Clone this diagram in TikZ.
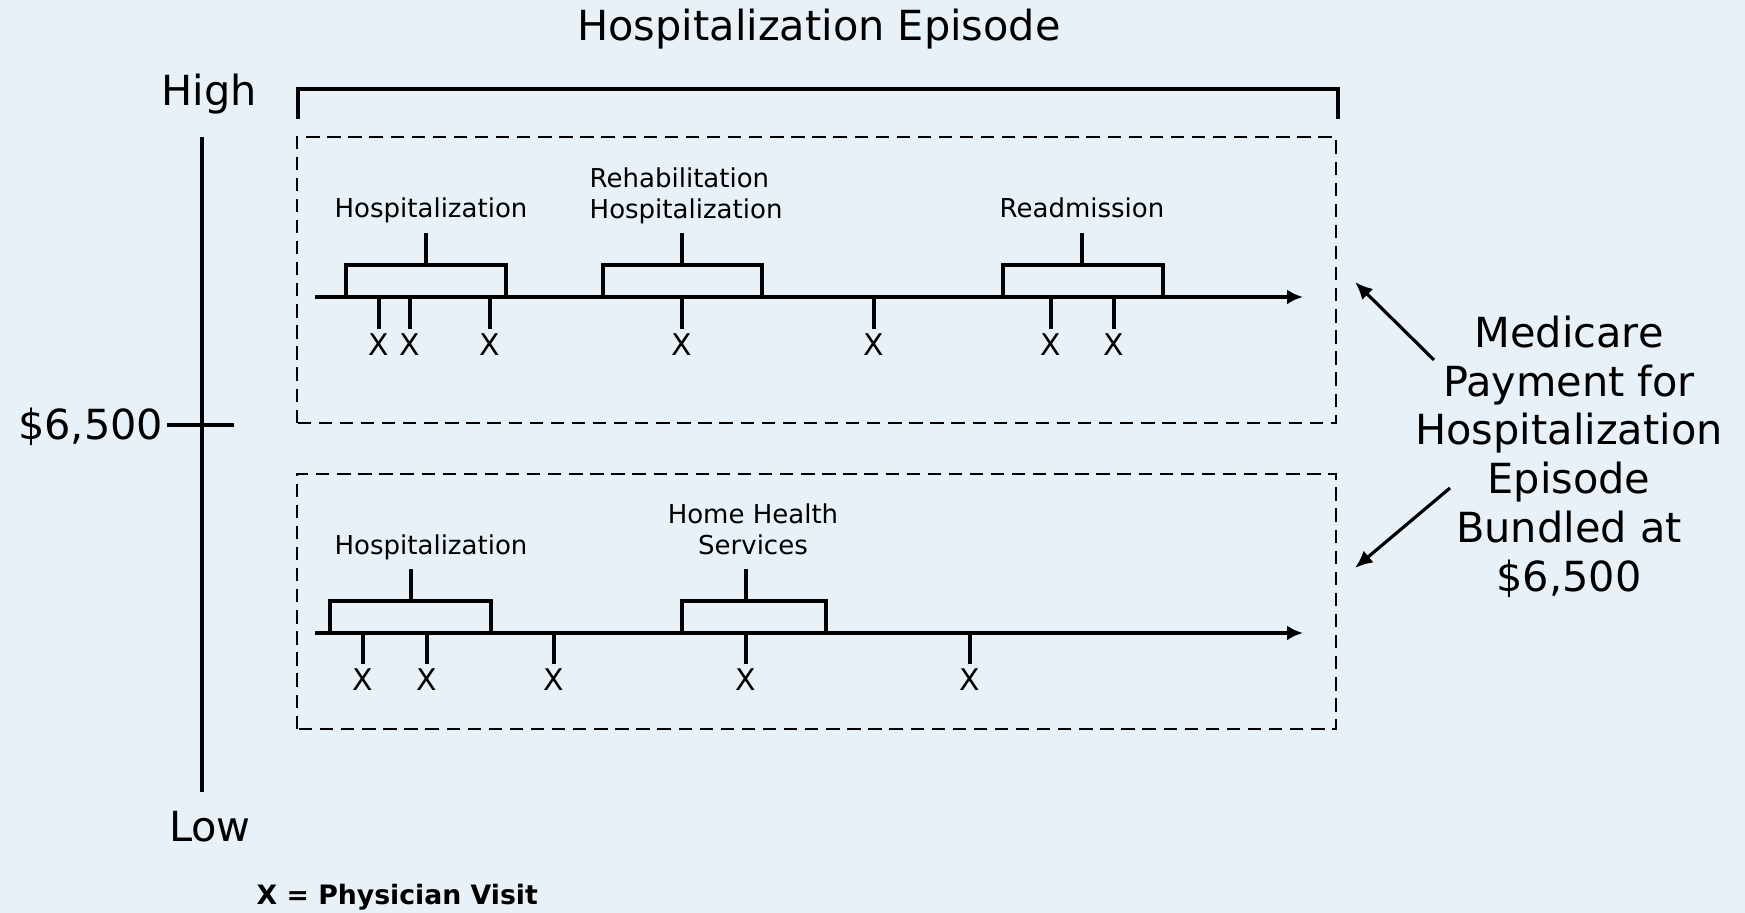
\documentclass[tikz,border=0pt]{standalone}
\usepackage{fontspec}
\setmainfont{DejaVu Sans}
\usetikzlibrary{arrows.meta}
\definecolor{paleblue}{RGB}{232,240,248}

\tikzset{
    bigtext/.style={font=\fontsize{11.8}{13.9}\selectfont, inner sep=0pt},
    smalltext/.style={font=\fontsize{7.4}{8.9}\selectfont, inner sep=0pt},
    visit/.style={font=\fontsize{8.5}{10}\selectfont, inner sep=0pt, anchor=north, yshift=-0.9pt},
    stay/.style={line width=1.05pt},
    timeline/.style={line width=0.9pt, -{Latex[length=4.5pt,width=4.2pt]}},
    pointer/.style={line width=0.9pt, -{Latex[length=5pt,width=4.4pt]}},
    episodebox/.style={line width=0.75pt, dash pattern=on 3.8pt off 2.2pt},
}

\begin{document}
\begin{tikzpicture}
    % Background
    \fill[paleblue] (0,0) rectangle (17.45,9.13);
    \useasboundingbox (0,0) rectangle (17.45,9.13);

    % Title and episode bracket
    \node[bigtext, anchor=base] (title) at (8.19,8.72) {Hospitalization Episode};
    \draw[stay] (2.98,7.94) |- (13.38,8.24) -- (13.38,7.94);

    % Cost axis
    \node[bigtext, anchor=base] (high) at (2.09,8.07) {High};
    \node[bigtext, anchor=base] (low) at (2.10,0.71) {Low};
    \node[bigtext, anchor=base east] (price) at (1.64,4.73) {\$6,500};
    \coordinate (axtop) at (2.02,7.76);
    \coordinate (axbot) at (2.02,1.21);
    \draw[stay] (axtop) -- (axbot);
    \draw[stay] (1.67,4.88) -- (2.34,4.88);

    % Dashed episode boxes
    \draw[episodebox] (2.97,4.90) rectangle (13.36,7.76);
    \draw[episodebox] (2.97,1.84) rectangle (13.36,4.39);

    % Upper timeline
    \coordinate (upstart) at (3.15,6.16);
    \coordinate (upend) at (13.03,6.16);
    \draw[timeline] (upstart) -- (upend);

    % Upper stays
    \draw[stay] (3.46,6.16) |- (5.06,6.48) -- (5.06,6.16);
    \draw[stay] (4.26,6.48) -- (4.26,6.80);
    \node[smalltext, anchor=base] (hospA) at (4.31,6.95) {Hospitalization};

    \draw[stay] (6.03,6.16) |- (7.62,6.48) -- (7.62,6.16);
    \draw[stay] (6.82,6.48) -- (6.82,6.80);
    \node[smalltext, anchor=north west, align=left] (rehab) at (5.89,7.46) {Rehabilitation\\Hospitalization};

    \draw[stay] (10.03,6.16) |- (11.63,6.48) -- (11.63,6.16);
    \draw[stay] (10.82,6.48) -- (10.82,6.80);
    \node[smalltext, anchor=base] (readmit) at (10.82,6.95) {Readmission};

    % Upper physician visits
    \foreach \x [count=\i] in {3.79,4.10,4.90,6.82,8.74,10.51,11.14}
        \draw[stay] (\x,6.16) -- (\x,5.84) node[visit] (visitA\i) {X};

    % Lower timeline
    \coordinate (lowstart) at (3.15,2.80);
    \coordinate (lowend) at (13.03,2.80);
    \draw[timeline] (lowstart) -- (lowend);

    % Lower stays
    \draw[stay] (3.30,2.80) |- (4.91,3.12) -- (4.91,2.80);
    \draw[stay] (4.11,3.12) -- (4.11,3.44);
    \node[smalltext, anchor=base] (hospB) at (4.31,3.58) {Hospitalization};

    \draw[stay] (6.82,2.80) |- (8.26,3.12) -- (8.26,2.80);
    \draw[stay] (7.46,3.12) -- (7.46,3.44);
    \node[smalltext, anchor=north, align=center] (homehealth) at (7.53,4.10) {Home Health\\Services};

    % Lower physician visits
    \foreach \x [count=\i] in {3.63,4.27,5.54,7.46,9.70}
        \draw[stay] (\x,2.80) -- (\x,2.49) node[visit] (visitB\i) {X};

    % Payment note and pointers
    \node[bigtext, anchor=north, align=center] (payment) at (15.69,5.98)
        {Medicare\\Payment for\\Hospitalization\\Episode\\Bundled at\\\$6,500};
    \coordinate (upfrom) at (14.34,5.53);
    \coordinate (upto) at (13.55,6.31);
    \coordinate (lowfrom) at (14.50,4.25);
    \coordinate (lowto) at (13.55,3.45);
    \draw[pointer] (upfrom) -- (upto);
    \draw[pointer] (lowfrom) -- (lowto);

    % Legend
    \node[font=\bfseries\fontsize{7.6}{9}\selectfont, inner sep=0pt, anchor=base west] (legend)
        at (2.56,0.08) {X = Physician Visit};
\end{tikzpicture}
\end{document}
